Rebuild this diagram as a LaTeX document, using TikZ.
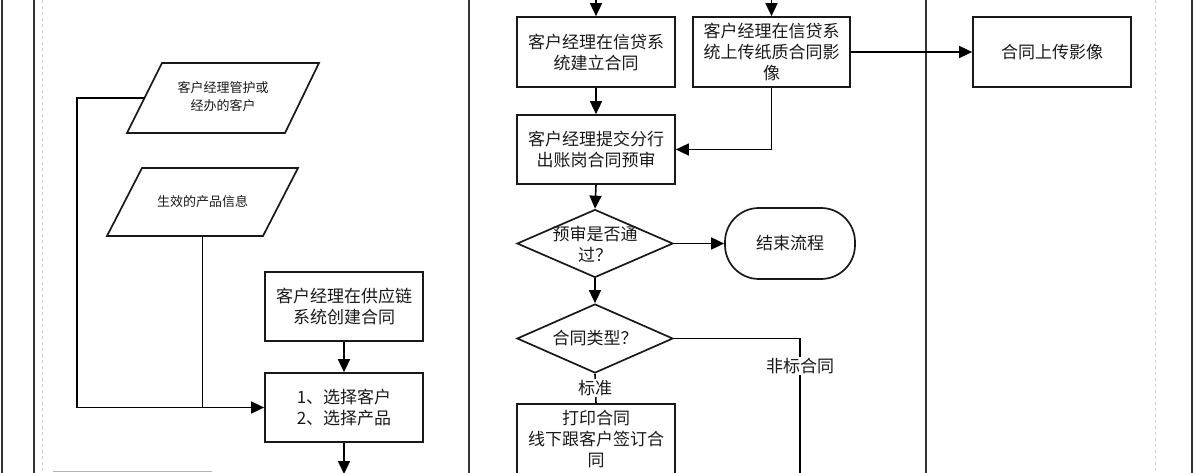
\documentclass[tikz,border=0pt]{standalone}
\usepackage{fontspec}
\newfontfamily\cjk{Noto Sans CJK SC}
\usetikzlibrary{shapes.geometric,arrows.meta}
\tikzset{
  big/.style={font=\cjk\fontsize{17}{21}\selectfont, align=center, text=black!90},
  small/.style={font=\cjk\fontsize{13}{18}\selectfont, align=center, text=black!90},
  box/.style={draw=black!90, line width=1.7pt, rectangle, minimum width=158pt, minimum height=69pt, inner sep=2pt, big},
  para/.style={draw=black!90, line width=1.7pt, line join=miter},
  dia/.style={draw=black!90, line width=1.7pt, diamond, minimum width=156pt, minimum height=68pt, inner sep=0pt},
  term/.style={draw=black!90, line width=1.7pt, rectangle, rounded corners=34pt, minimum width=130pt, minimum height=71pt, big},
  conn/.style={draw=black, line width=1.6pt},
  arr/.style={conn, -{Triangle[length=13pt,width=12pt]}},
  lane/.style={draw=black!80, line width=2.4pt},
  guide/.style={draw=black!20, line width=0.8pt, dashed},
  lbl/.style={big, fill=white, inner sep=1pt},
}
\begin{document}
\begin{tikzpicture}[x=1pt,y=-1pt]
\useasboundingbox (0,0) rectangle (1195,473);
% lanes
\draw[lane] (2,0) -- (2,473);
\draw[lane] (34,0) -- (34,473);
\draw[guide] (42,0) -- (42,473);
\draw[lane] (469,0) -- (469,473);
\draw[lane] (926,0) -- (926,473);
\draw[guide] (1155,0) -- (1155,473);
\draw[lane] (1192,0) -- (1192,473);
\draw[draw=black!30, line width=1pt] (53,471) -- (212,471);

% left lane: data parallelograms
\draw[para] (162,63) -- (319,63) -- (285,133) -- (127,133) -- cycle;
\node[small] (p1) at (223,97) {客户经理管护或\\经办的客户};
\coordinate (p1w) at (144.5,98);
\draw[para] (142,168) -- (298,168) -- (263,236) -- (107,236) -- cycle;
\node[small] (p2) at (202.5,202) {生效的产品信息};
\coordinate (p2s) at (202.5,236);

\node[box] (chain) at (344,306.5) {客户经理在供应链\\系统创建合同};
\node[box] (sel) at (344,407.5) {1、选择客户\\2、选择产品};
\coordinate (c1) at (77,407.5);
\coordinate (bl) at (344,474);

\draw[conn] (p1w) -| (c1);
\draw[arr] (c1) -- (sel.west);
\draw[conn] (p2s) -- (p2s |- sel.west);
\draw[arr] (chain) -- (sel);
\draw[arr] (sel) -- (bl);

% middle lane
\coordinate (t1) at (596,0);
\coordinate (t2) at (771.5,0);
\node[box, minimum height=70pt] (jx) at (596,52) {客户经理在信贷系\\统建立合同};
\node[box, minimum width=157pt, minimum height=70pt] (up) at (771.5,52) {客户经理在信贷系\\统上传纸质合同影\\像};
\node[box, minimum height=70pt] (img) at (1052,52) {合同上传影像};
\node[box] (pre) at (596,149.5) {客户经理提交分行\\出账岗合同预审};
\node[dia] (d1) at (595,243.5) {};
\node[big] (d1t) at (595,244) {预审是否通\\过？};
\node[term] (end) at (790,243.5) {结束流程};
\node[dia, minimum height=69pt] (d2) at (595,338.5) {};
\node[big] (d2t) at (595,338.5) {合同类型？};
\node[box, minimum height=70pt] (pr) at (596,439) {打印合同\\线下跟客户签订合\\同};
\coordinate (c2) at (800,338.5);
\coordinate (br) at (800,474);

\draw[arr] (t1) -- (jx);
\draw[arr] (t2) -- (up);
\draw[arr] (jx) -- (pre);
\draw[arr] (up.south) |- (pre.east);
\draw[arr] (up.east) -- (img.west);
\draw[arr] (pre.south) -- (d1.north);
\draw[arr] (d1.east) -- (end.west);
\draw[arr] (d1.south) -- (d2.north);
\draw[conn] (d2.east) -- (c2) -- (br);
\node[lbl] (nb) at (800,366) {非标合同};
\draw[conn] (d2.south) -- (pr.north);
\node[lbl] (bz) at (595,388) {标准};
\end{tikzpicture}
\end{document}
